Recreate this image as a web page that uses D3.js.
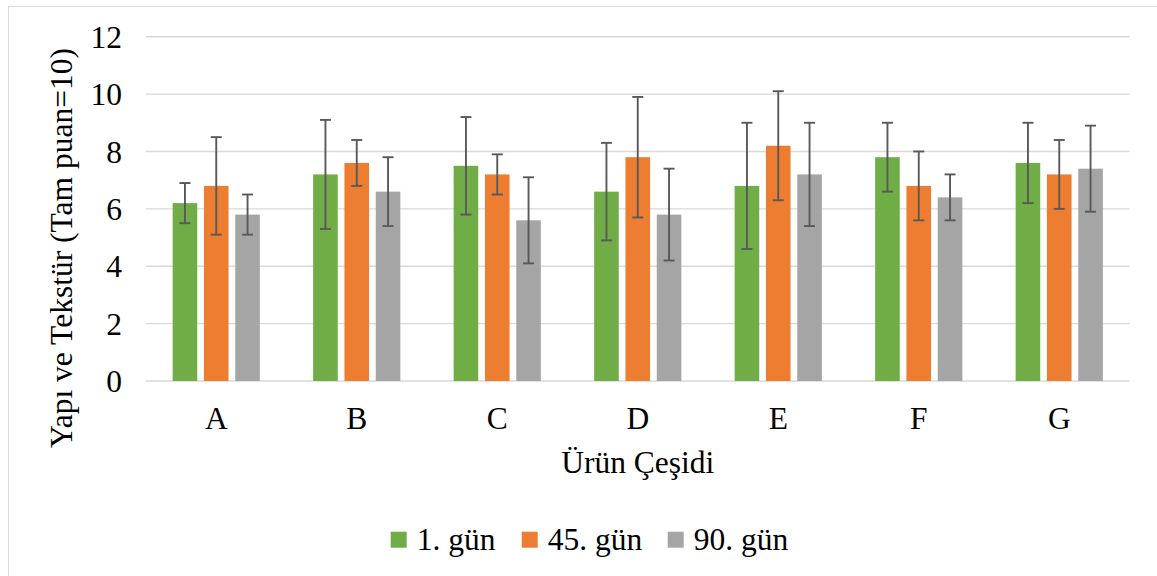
<!DOCTYPE html>
<html>
<head>
<meta charset="utf-8">
<script src="https://cdn.jsdelivr.net/npm/d3@7"></script>
<style>
  html, body { margin: 0; padding: 0; background: #fff; }
  svg { display: block; }
  svg text { font-family: 'Liberation Serif', 'Times New Roman', serif; fill: #000; }
</style>
</head>
<body>
<svg id="chart" width="1157" height="576"></svg>
<script>
// ---- data ----
const categories = ["A", "B", "C", "D", "E", "F", "G"];
const seriesNames = ["1. gün", "45. gün", "90. gün"];
const day1Values  = [6.2, 7.2, 7.5, 6.6, 6.8, 7.8, 7.6];
const day45Values = [6.8, 7.6, 7.2, 7.8, 8.2, 6.8, 7.2];
const day90Values = [5.8, 6.6, 5.6, 5.8, 7.2, 6.4, 7.4];
const day1Errors  = [0.7, 1.9, 1.7, 1.7, 2.2, 1.2, 1.4];
const day45Errors = [1.7, 0.8, 0.7, 2.1, 1.9, 1.2, 1.2];
const day90Errors = [0.7, 1.2, 1.5, 1.6, 1.8, 0.8, 1.5];
const yTicks = [0, 2, 4, 6, 8, 10, 12];
const seriesColors = ["#70AD47", "#ED7D31", "#A5A5A5"];
const yTitle = "Yapı ve Tekstür (Tam puan=10)";
const xTitle = "Ürün Çeşidi";

const allValues = [day1Values, day45Values, day90Values];
const allErrors = [day1Errors, day45Errors, day90Errors];

// ---- layout ----
const serif = "'Liberation Serif', 'Times New Roman', serif";
const svg = d3.select("#chart");
const plotLeft = 146, plotRight = 1129.5, plotTop = 36.7, plotBottom = 381;
const fontSize = 31.5;

// chart border
svg.append("rect")
  .attr("x", 8.5).attr("y", 6.5).attr("width", 1160).attr("height", 580)
  .attr("fill", "none").attr("stroke", "#D9D9D9").attr("stroke-width", 1);

const x0 = d3.scaleBand().domain(categories).range([plotLeft, plotRight]).padding(0);
const groupW = 87.2;
const groupOff = (x0.step() - groupW) / 2;
const x1 = d3.scaleBand().domain(seriesNames).range([groupOff, groupOff + groupW])
  .paddingInner(0.214).paddingOuter(0);
const y = d3.scaleLinear().domain([0, 12]).range([plotBottom, plotTop]);

// gridlines
svg.append("g").selectAll("line").data(yTicks).join("line")
  .attr("x1", plotLeft).attr("x2", plotRight)
  .attr("y1", d => y(d)).attr("y2", d => y(d))
  .attr("stroke", "#D9D9D9").attr("stroke-width", 1.4);

// y tick labels via axis
const yAxis = svg.append("g")
  .attr("transform", `translate(${plotLeft},0)`)
  .call(d3.axisLeft(y).tickValues(yTicks).tickSize(0).tickPadding(24).tickFormat(d3.format("d")));
yAxis.attr("font-family", serif).attr("font-size", fontSize);
yAxis.select(".domain").remove();
yAxis.selectAll("text")
  .style("font-family", serif)
  .attr("font-size", fontSize).attr("fill", "#000").attr("dy", "0.34em");

// x category labels via axis
const xAxis = svg.append("g")
  .attr("transform", `translate(0,${plotBottom})`)
  .call(d3.axisBottom(x0).tickSize(0).tickPadding(0));
xAxis.attr("font-family", serif).attr("font-size", fontSize);
xAxis.select(".domain").remove();
xAxis.selectAll("text")
  .style("font-family", serif)
  .attr("font-size", fontSize).attr("fill", "#000")
  .attr("y", 48).attr("dy", 0);

// bars
const barData = [];
categories.forEach((c, i) => {
  seriesNames.forEach((s, j) => {
    barData.push({ cat: c, series: s, value: allValues[j][i], err: allErrors[j][i], color: seriesColors[j] });
  });
});

svg.append("g").selectAll("rect").data(barData).join("rect")
  .attr("x", d => x0(d.cat) + x1(d.series))
  .attr("y", d => y(d.value))
  .attr("width", x1.bandwidth())
  .attr("height", d => y(0) - y(d.value))
  .attr("fill", d => d.color);

// error bars
const capHalf = 5.5;
const eg = svg.append("g").attr("stroke", "#595959").attr("stroke-width", 1.9);
barData.forEach(d => {
  const cx = x0(d.cat) + x1(d.series) + x1.bandwidth() / 2;
  const yt = y(d.value + d.err), yb = y(d.value - d.err);
  eg.append("line").attr("x1", cx).attr("x2", cx).attr("y1", yt).attr("y2", yb);
  eg.append("line").attr("x1", cx - capHalf).attr("x2", cx + capHalf).attr("y1", yt).attr("y2", yt);
  eg.append("line").attr("x1", cx - capHalf).attr("x2", cx + capHalf).attr("y1", yb).attr("y2", yb);
});

// axis titles
svg.append("text")
  .attr("x", (plotLeft + plotRight) / 2).attr("y", 473)
  .attr("text-anchor", "middle").attr("font-size", fontSize)
  .style("font-family", serif)
  .text(xTitle);

svg.append("text")
  .attr("transform", "translate(72,248) rotate(-90)")
  .attr("text-anchor", "middle").attr("font-size", fontSize)
  .style("font-family", serif)
  .text(yTitle);

// legend
const legendX = [390.7, 521.7, 667.7];
const lg = svg.append("g");
seriesNames.forEach((s, j) => {
  lg.append("rect").attr("x", legendX[j]).attr("y", 531.7).attr("width", 16).attr("height", 16)
    .attr("fill", seriesColors[j]);
  lg.append("text").attr("x", legendX[j] + 26).attr("y", 550)
    .attr("font-size", fontSize).style("font-family", serif).text(s);
});
</script>
</body>
</html>
